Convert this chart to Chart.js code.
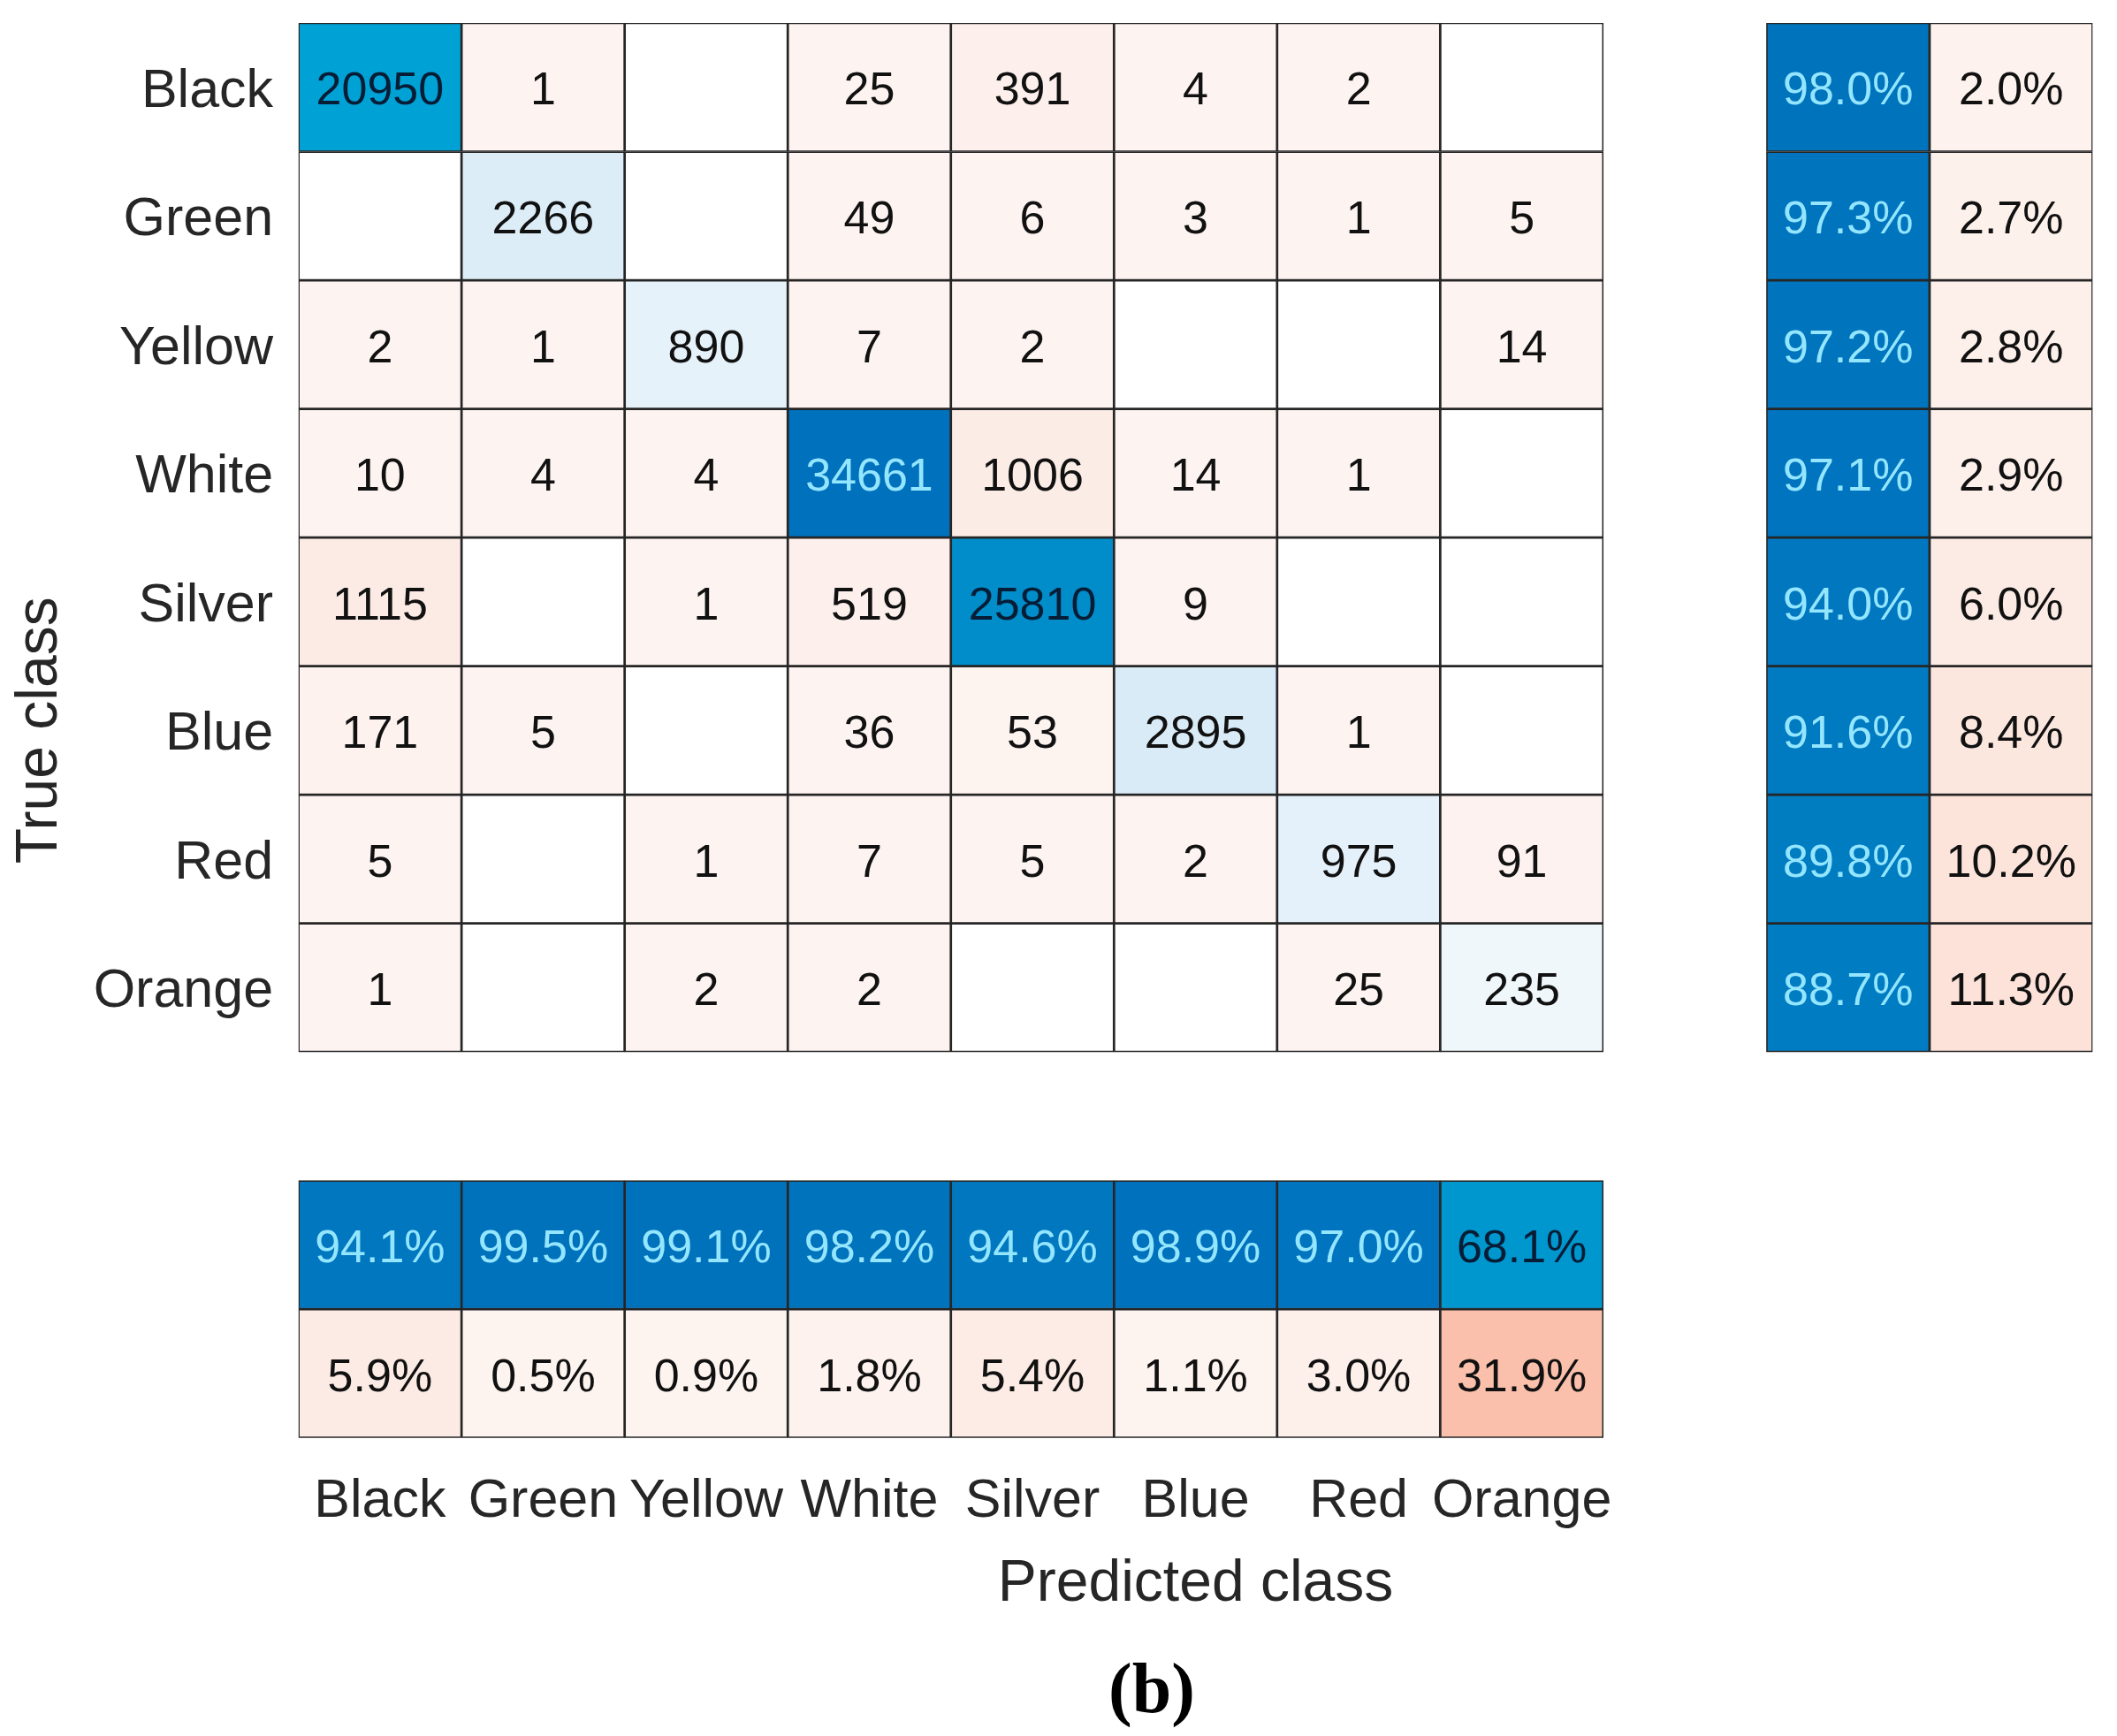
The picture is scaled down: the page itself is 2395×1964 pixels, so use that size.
<!DOCTYPE html>
<html>
<head>
<meta charset="utf-8">
<script src="https://cdn.jsdelivr.net/npm/chart.js@4.4.1/dist/chart.umd.min.js"></script>
<style>
html,body{margin:0;padding:0;background:#ffffff;}
#wrap{position:relative;width:2395px;height:1964px;overflow:hidden;}
#cap{position:absolute;left:1303px;top:1910px;transform:translate(-50%,-50%);font:bold 80px "Liberation Serif";color:#000;white-space:nowrap;line-height:1;}
</style>
</head>
<body>
<div id="wrap"><canvas id="c" width="2395" height="1964"></canvas><div id="cap">(b)</div></div>
<script>
// ---- data ----
const classes = ['Black', 'Green', 'Yellow', 'White', 'Silver', 'Blue', 'Red', 'Orange'];
// rows = true class, columns = predicted class
const counts = [
  [20950, 1, 0, 25, 391, 4, 2, 0],
  [0, 2266, 0, 49, 6, 3, 1, 5],
  [2, 1, 890, 7, 2, 0, 0, 14],
  [10, 4, 4, 34661, 1006, 14, 1, 0],
  [1115, 0, 1, 519, 25810, 9, 0, 0],
  [171, 5, 0, 36, 53, 2895, 1, 0],
  [5, 0, 1, 7, 5, 2, 975, 91],
  [1, 0, 2, 2, 0, 0, 25, 235]
];
const rowCorrect = [98.0, 97.3, 97.2, 97.1, 94.0, 91.6, 89.8, 88.7];
const rowError = [2.0, 2.7, 2.8, 2.9, 6.0, 8.4, 10.2, 11.3];
const colCorrect = [94.1, 99.5, 99.1, 98.2, 94.6, 98.9, 97.0, 68.1];
const colError = [5.9, 0.5, 0.9, 1.8, 5.4, 1.1, 3.0, 31.9];

// ---- colour helpers (styles) ----
const blueStops = [
  [0, [255, 255, 255]], [0.005, [241, 247, 251]], [0.03, [228, 241, 250]],
  [0.09, [216, 234, 245]], [0.35, [110, 195, 232]], [0.6, [0, 163, 214]],
  [0.75, [0, 140, 201]], [1, [0, 113, 188]]
];
function interp(stops, t) {
  t = Math.max(0, Math.min(1, t));
  for (let i = 1; i < stops.length; i++) {
    if (t <= stops[i][0]) {
      const [t0, c0] = stops[i - 1], [t1, c1] = stops[i];
      const f = (t - t0) / (t1 - t0);
      const c = c0.map((v, k) => Math.round(v + (c1[k] - v) * f));
      return `rgb(${c[0]},${c[1]},${c[2]})`;
    }
  }
  const c = stops[stops.length - 1][1];
  return `rgb(${c[0]},${c[1]},${c[2]})`;
}
function blueText(t) { return t >= 0.8 ? '#94e6ff' : (t >= 0.5 ? '#071d36' : '#111111'); }
function pinkCount(t) {
  return `rgb(${Math.round(253 - 1 * t)},${Math.round(243 - 8 * t)},${Math.round(240 - 11 * t)})`;
}
function pinkPct(p) {
  return `rgb(${Math.round(253 - 0.1 * p)},${Math.round(245 - 1.65 * p)},${Math.round(241 - 2.15 * p)})`;
}

// ---- build datasets from the arrays ----
const maxDiag = Math.max(...counts.map((r, i) => r[i]));
const maxOff = Math.max(...counts.flatMap((r, i) => r.filter((v, j) => j !== i)));
const n = classes.length;

const mainPts = [], mainBg = [], mainTxt = [], mainTxtCol = [];
counts.forEach((row, r) => row.forEach((v, c) => {
  mainPts.push({ x: c + 0.5, y: [r, r + 1] });
  if (v === 0) { mainBg.push('#ffffff'); mainTxt.push(''); mainTxtCol.push('#111'); return; }
  mainTxt.push(String(v));
  if (r === c) { const t = v / maxDiag; mainBg.push(interp(blueStops, t)); mainTxtCol.push(blueText(t)); }
  else { mainBg.push(pinkCount(v / maxOff)); mainTxtCol.push('#111111'); }
}));

const rowPts = [], rowBg = [], rowTxt = [], rowTxtCol = [];
rowCorrect.forEach((p, r) => {
  rowPts.push({ x: n + 1.5, y: [r, r + 1] });
  rowBg.push(interp(blueStops, p / 100)); rowTxt.push(p.toFixed(1) + '%'); rowTxtCol.push(blueText(p / 100));
  rowPts.push({ x: n + 2.5, y: [r, r + 1] });
  rowBg.push(pinkPct(rowError[r])); rowTxt.push(rowError[r].toFixed(1) + '%'); rowTxtCol.push('#111111');
});

const colPts = [], colBg = [], colTxt = [], colTxtCol = [];
colCorrect.forEach((p, c) => {
  colPts.push({ x: c + 0.5, y: [n + 1, n + 2] });
  colBg.push(interp(blueStops, p / 100)); colTxt.push(p.toFixed(1) + '%'); colTxtCol.push(blueText(p / 100));
  colPts.push({ x: c + 0.5, y: [n + 2, n + 3] });
  colBg.push(pinkPct(colError[c])); colTxt.push(colError[c].toFixed(1) + '%'); colTxtCol.push('#111111');
});

const cellStyle = { borderColor: '#262626', borderWidth: 1.7, borderSkipped: false, grouped: false, barPercentage: 1, categoryPercentage: 1 };

const cellFontSize = 52;
const cellText = {
  id: 'cellText',
  afterDatasetsDraw(chart) {
    const ctx = chart.ctx;
    chart.data.datasets.forEach((ds, di) => {
      const meta = chart.getDatasetMeta(di);
      meta.data.forEach((bar, i) => {
        const txt = ds.cellLabels[i];
        if (!txt) return;
        const p = bar.getProps(['x', 'y', 'base'], true);
        ctx.save();
        ctx.font = cellFontSize + 'px "Liberation Sans"';
        ctx.fillStyle = ds.cellTextColors[i];
        ctx.textAlign = 'center';
        ctx.textBaseline = 'alphabetic';
        ctx.fillText(txt, p.x, (p.y + p.base) / 2 + cellFontSize * 0.36 + 1);
        ctx.restore();
      });
    });
  }
};

Chart.defaults.font.family = '"Liberation Sans", Arial, sans-serif';
Chart.defaults.color = '#262626';

const centers = classes.map((_, i) => ({ value: i + 0.5 }));

new Chart(document.getElementById('c'), {
  type: 'bar',
  data: {
    datasets: [
      Object.assign({ label: 'matrix', data: mainPts, backgroundColor: mainBg, cellLabels: mainTxt, cellTextColors: mainTxtCol }, cellStyle),
      Object.assign({ label: 'rows', data: rowPts, backgroundColor: rowBg, cellLabels: rowTxt, cellTextColors: rowTxtCol }, cellStyle),
      Object.assign({ label: 'cols', data: colPts, backgroundColor: colBg, cellLabels: colTxt, cellTextColors: colTxtCol }, cellStyle)
    ]
  },
  options: {
    responsive: false,
    devicePixelRatio: 1,
    animation: false,
    events: [],
    layout: { padding: { top: 26, right: 27.5, left: 0, bottom: 131.3 } },
    plugins: { legend: { display: false }, tooltip: { enabled: false }, title: { display: false } },
    scales: {
      x: {
        type: 'linear', position: 'bottom', min: 0, max: n + 3, offset: false, bounds: 'data',
        grid: { display: false, drawTicks: false }, border: { display: false },
        afterBuildTicks: s => { s.ticks = centers.map(t => ({ value: t.value })); },
        afterFit: s => { s.height = 206; s.paddingLeft = 0; s.paddingRight = 0; },
        ticks: { autoSkip: false, maxRotation: 0, minRotation: 0, padding: 36, font: { size: 61 }, color: '#262626',
          callback: (v, i) => classes[i] },
        title: { display: true, text: 'Predicted class', font: { size: 66 }, color: '#262626', padding: { top: 0, bottom: 0 } }
      },
      y: {
        type: 'linear', position: 'left', reverse: true, min: 0, max: n + 3, bounds: 'data',
        grid: { display: false, drawTicks: false }, border: { display: false },
        afterBuildTicks: s => { s.ticks = centers.map(t => ({ value: t.value })); },
        afterFit: s => { s.width = 337.6; s.paddingTop = 0; s.paddingBottom = 0; },
        ticks: { autoSkip: false, padding: 28.5, labelOffset: 5, font: { size: 61 }, color: '#262626',
          callback: (v, i) => classes[i] },
        title: { display: true, text: 'True class', font: { size: 66 }, color: '#262626', padding: { top: 6, bottom: 0 } }
      }
    }
  },
  plugins: [cellText]
});
</script>
</body>
</html>
